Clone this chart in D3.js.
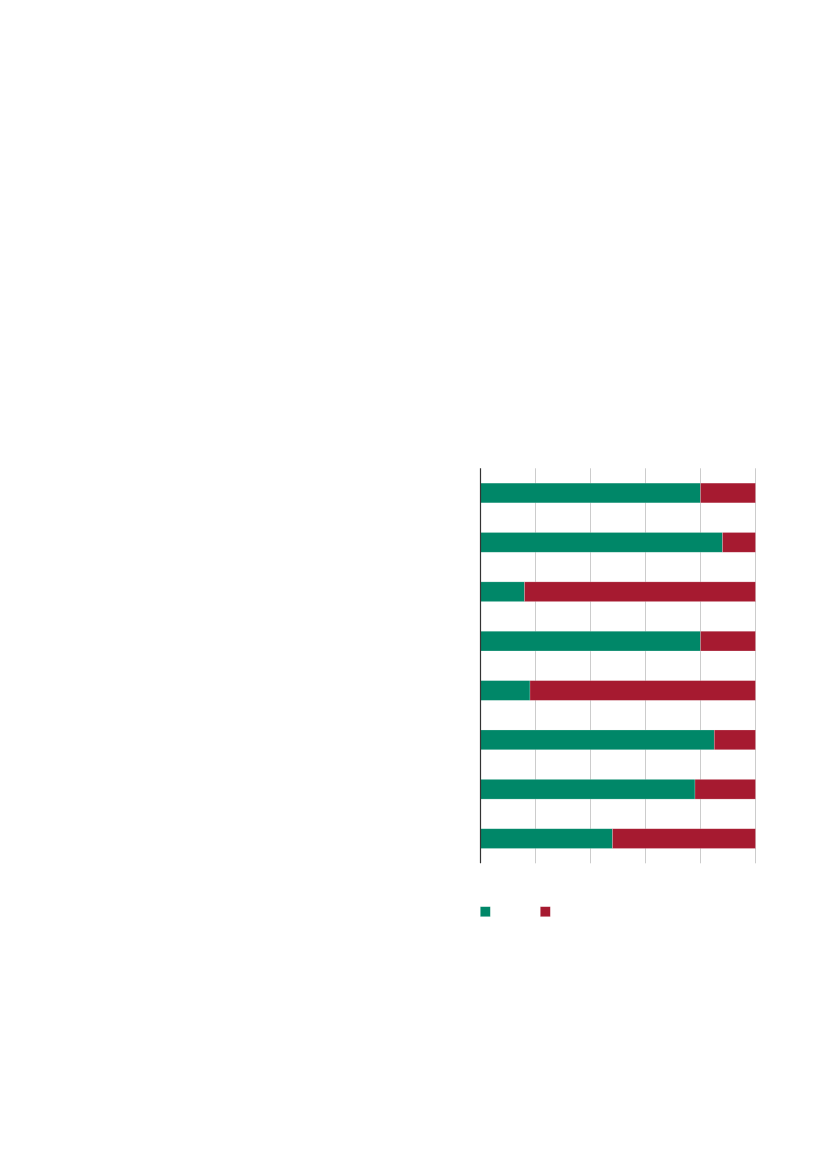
<!DOCTYPE html>
<html><head><meta charset="utf-8">
<script src="https://cdn.jsdelivr.net/npm/d3@7"></script>
<style>html,body{margin:0;padding:0;background:#fff;}svg{display:block;}</style>
</head><body>
<script>
const categories = ["A","B","C","D","E","F","G","H"];
const seriesNames = ["Series 1","Series 2"];
const seriesA = [80, 88, 16, 80, 18, 85, 78, 48];
const seriesB = [20, 12, 84, 20, 82, 15, 22, 52];
const xTicks = [0, 20, 40, 60, 80, 100];
const colors = ["#008768", "#a61a30"];

const W = 827, H = 1169;
const svg = d3.select("body").append("svg").attr("width", W).attr("height", H);

const x = d3.scaleLinear().domain([0, 100]).range([480.5, 755.5]);
const y = d3.scaleBand().domain(categories).range([468.3, 863.3]).paddingInner(0.6).paddingOuter(0.3);

// gridlines
svg.append("g").selectAll("line").data(xTicks.slice(1)).join("line")
  .attr("x1", d => x(d)).attr("x2", d => x(d))
  .attr("y1", 468.3).attr("y2", 863.3)
  .attr("stroke", "#cccccc").attr("stroke-width", 1);

const data = categories.map((c, i) => ({c, a: seriesA[i], b: seriesB[i]}));
const stack = d3.stack().keys(["a","b"])(data);

svg.append("g").selectAll("g").data(stack).join("g")
  .attr("fill", (d, i) => colors[i])
  .selectAll("rect").data(d => d).join("rect")
  .attr("x", d => x(d[0]))
  .attr("width", d => x(d[1]) - x(d[0]))
  .attr("y", d => y(d.data.c))
  .attr("height", y.bandwidth())
  .attr("stroke", "#ffffff").attr("stroke-opacity", 0.35).attr("stroke-width", 0.6);

// left axis line
svg.append("line").attr("x1", x(0)).attr("x2", x(0)).attr("y1", 468.3).attr("y2", 863.3)
  .attr("stroke", "#333333").attr("stroke-width", 1.2);

// legend swatches
const lg = svg.append("g").selectAll("rect").data(seriesNames).join("rect")
  .attr("x", (d, i) => 480.3 + i * 60).attr("y", 906.7)
  .attr("width", 10).attr("height", 10)
  .attr("fill", (d, i) => colors[i])
  .attr("stroke", "#ffffff").attr("stroke-opacity", 0.35).attr("stroke-width", 0.6);
</script>
</body></html>
